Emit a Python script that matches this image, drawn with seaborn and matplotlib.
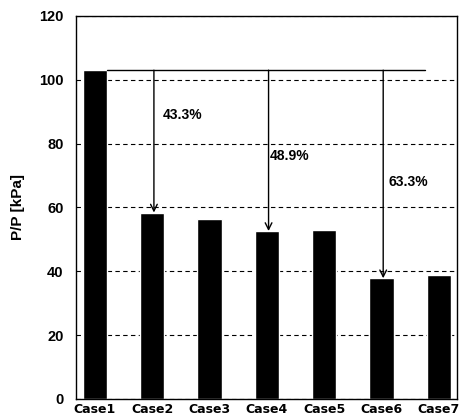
import matplotlib
matplotlib.use("Agg")
import matplotlib.pyplot as plt
import seaborn as sns
import pandas as pd

cases = ["Case1", "Case2", "Case3", "Case4", "Case5", "Case6", "Case7"]
pressure = [103.0, 58.4, 56.5, 52.6, 53.0, 37.8, 38.8]
reductions = ["43.3%", "48.9%", "63.3%"]
arrow_cases = [1, 3, 5]
label_dx = [0.18, 0.05, 0.12]
label_y = [89, 76, 68]
y_ticks = [0, 20, 40, 60, 80, 100, 120]

sns.set_theme(style="white")
plt.rcParams['font.family'] = ['Liberation Sans', 'DejaVu Sans']
for k in ["text.color", "axes.labelcolor", "xtick.color", "ytick.color"]:
    plt.rcParams[k] = "black"

df = pd.DataFrame({"case": cases, "p": pressure})

fig = plt.figure(figsize=(4.66, 4.19), dpi=100)
ax = fig.add_axes([0.163, 0.048, 0.818, 0.914])
sns.barplot(data=df, x="case", y="p", color="black", saturation=1, width=0.42, ax=ax)

ax.set_ylim(0, 120)
ax.set_xlim(-0.33, 6.32)
ax.set_yticks(y_ticks)
ax.set_axisbelow(True)
ax.yaxis.grid(True, linestyle=(0, (4, 3)), color="black", linewidth=0.8)
ax.xaxis.grid(False)
for s in ax.spines.values():
    s.set_visible(True)
    s.set_color("black")
    s.set_linewidth(1.0)

ax.tick_params(axis="y", length=0, pad=9, labelsize=10.5, colors="black")
ax.tick_params(axis="x", length=0, pad=3, labelsize=9, colors="black")
for lab in ax.get_yticklabels():
    lab.set_fontweight("bold")
for lab in ax.get_xticklabels():
    lab.set_fontweight("bold")
    lab.set_fontfamily("DejaVu Sans")
ax.set_xlabel("")
ax.set_ylabel("P/P [kPa]", fontsize=11, fontweight="bold", labelpad=10, color="black")

base = pressure[0]
ax.plot([0.21, 5.76], [base, base], color="black", linewidth=1.0)
for i, txt, dx, ly in zip(arrow_cases, reductions, label_dx, label_y):
    ax.annotate("", xy=(i + 0.03, pressure[i]), xytext=(i + 0.03, base),
                arrowprops=dict(arrowstyle="->", color="black", lw=1.0,
                                shrinkA=0, shrinkB=0, mutation_scale=12))
    ax.text(i + dx, ly, txt, fontsize=10, fontweight="bold", va="center", ha="left", color="black")

fig.savefig("out.png", dpi=100)
